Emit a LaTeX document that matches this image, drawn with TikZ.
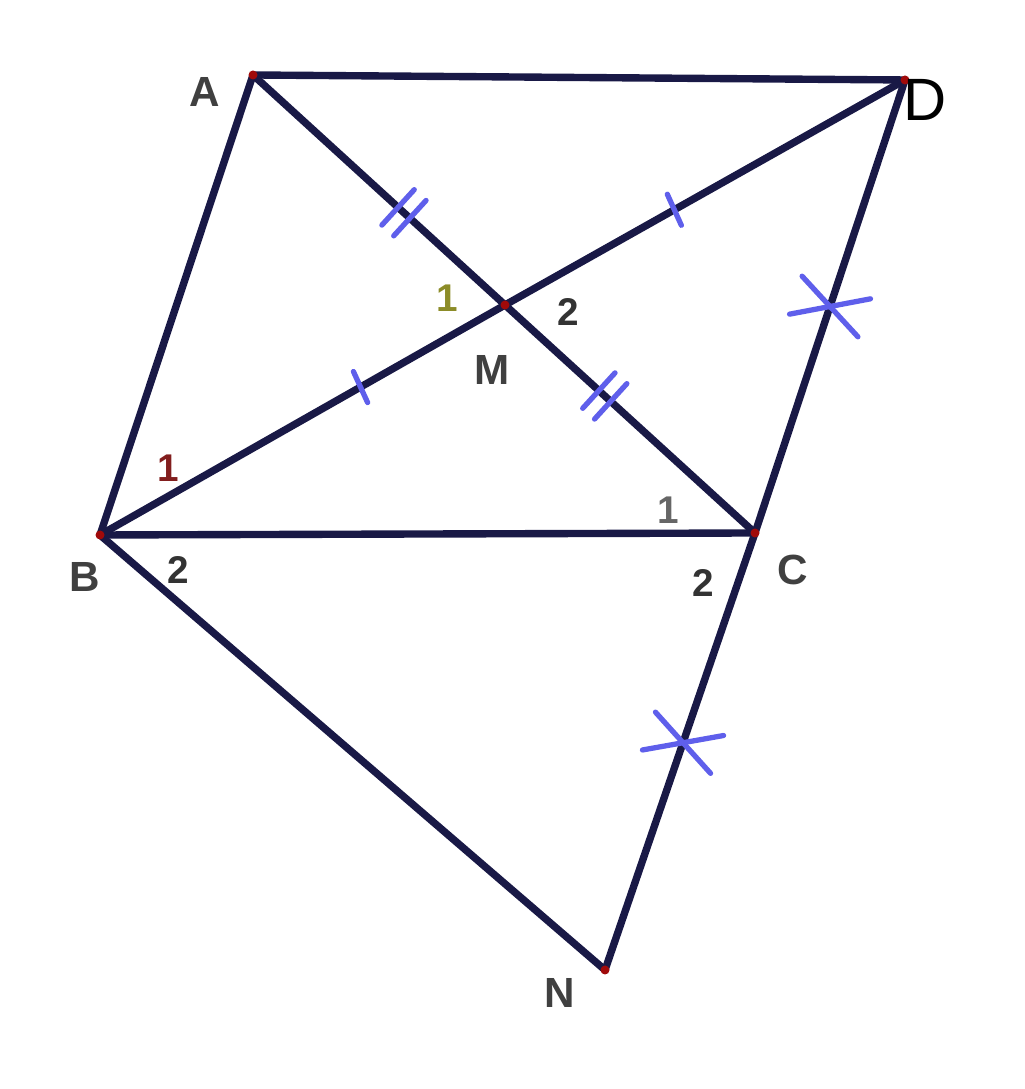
\documentclass[tikz,border=0pt]{standalone}
\usepackage{fontspec}
\setsansfont{Liberation Sans}
\usepackage{tikz}
\usetikzlibrary{decorations.markings}

\definecolor{segcol}{RGB}{25,25,70}
\definecolor{tickcol}{RGB}{95,95,235}
\definecolor{dotcol}{RGB}{160,10,10}
\definecolor{numolive}{RGB}{140,140,40}
\definecolor{numred}{RGB}{130,30,30}

\tikzset{
  seg/.style={draw=segcol, line width=2.1pt},
  lbl/.style={text=black!75, font=\sffamily\bfseries\fontsize{12}{14}\selectfont},
  num/.style={text=black!80, font=\sffamily\bfseries\fontsize{11}{13}\selectfont},
  tk/.style={draw=tickcol, line width=1.5pt, line cap=round},
  onetick/.style={postaction={decorate}, decoration={markings, mark=at position #1 with {
      \draw[tk] (0,-0.17) -- (0.03,0.17);}}},
  twoticks/.style={postaction={decorate}, decoration={markings, mark=at position #1 with {
      \draw[tk] (-0.08,-0.24) -- (-0.08,0.24);
      \draw[tk] (0.08,-0.24) -- (0.08,0.24);}}},
  crossmark/.style={postaction={decorate}, decoration={markings, mark=at position #1 with {
      \draw[tk] (-0.2,-0.36) -- (0.2,0.36);
      \draw[tk] (-0.2,0.36) -- (0.2,-0.36);}}}
}

\begin{document}
\begin{tikzpicture}
        \useasboundingbox (0,0) rectangle (10.24,10.89);
        \coordinate (A) at (2.53,10.14);
        \coordinate (D) at (9.05,10.09);
        \coordinate (B) at (1.00,5.54);
        \coordinate (C) at (7.55,5.56);
        \coordinate (M) at (5.05,7.84);
        \coordinate (N) at (6.05,1.19);
        \draw[seg] (A) -- (D);
        \draw[seg] (A) -- (B);
        \draw[seg] (B) -- (C);
        \draw[seg, crossmark=0.5] (C) -- (D);
        \draw[seg, twoticks=0.6] (A) -- (M);
        \draw[seg, twoticks=0.4] (M) -- (C);
        \draw[seg, onetick=0.64] (B) -- (M);
        \draw[seg, onetick=0.42] (M) -- (D);
        \draw[seg] (B) -- (N);
        \draw[seg, crossmark=0.48] (C) -- (N);
        \foreach \p in {A,B,C,D,M,N}
          \fill[dotcol] (\p) circle (0.045);
        \node[lbl] at (2.05,9.97) (la){A};
        \node[lbl, text=black, font=\sffamily\fontsize{17}{19}\selectfont] at (9.25,9.89) (ld){D};
        \node[lbl] at (0.85,5.12) (lb){B};
        \node[lbl] at (7.93,5.19) (lc){C};
        \node[lbl] at (4.92,7.19) (lm){M};
        \node[lbl] at (5.60,0.96) (ln){N};
        \node[num, text=numolive] at (4.47,7.91) (m1){1};
        \node[num] at (5.68,7.77) (m2){2};
        \node[num, text=numred] at (1.68,6.21) (b1){1};
        \node[num] at (1.78,5.19) (b2){2};
        \node[num, text=black!60] at (6.68,5.79) (c1){1};
        \node[num] at (7.03,5.06) (c2){2};
      \end{tikzpicture}
\end{document}
